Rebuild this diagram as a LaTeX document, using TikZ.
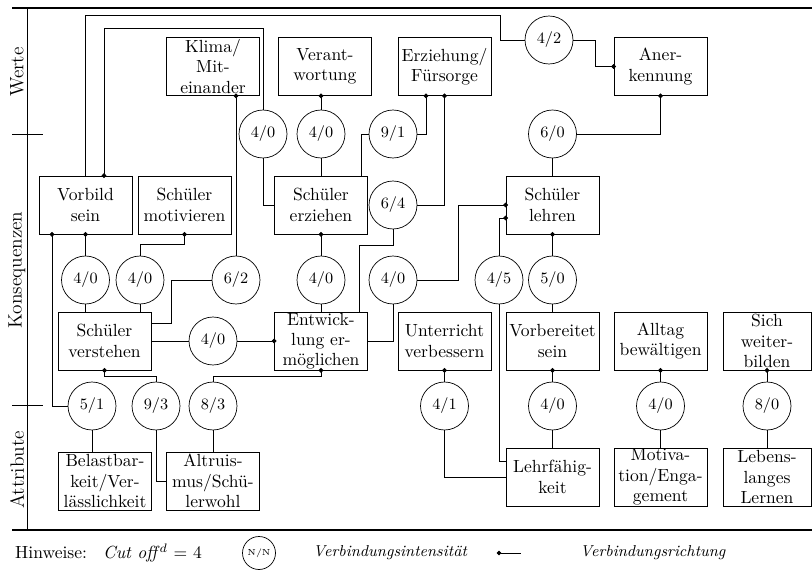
\documentclass[tikz,border=0pt]{standalone}
\usepackage{tikz}
\usetikzlibrary{shapes,arrows.meta,positioning,calc}

\begin{document}
\begin{tikzpicture}[x=0.02cm, y=-0.02cm,
    factor/.style={rectangle, draw, minimum width=1.86cm, minimum height=1.16cm, inner xsep=1pt, inner ysep=0pt, align=center, font=\fontsize{10}{11.5}\selectfont},
    link/.style={circle, draw, minimum size=0.96cm, inner sep=0pt, font=\small},
    level/.style={rotate=90, font=\fontsize{11}{13}\selectfont},
    dotstart/.style={{Circle[length=2.6pt]}-, shorten <=-1.3pt},
    dotend/.style={-{Circle[length=2.6pt]}, shorten >=-1.3pt},
    note/.style={anchor=west, font=\normalsize},
    keytext/.style={anchor=west, font=\fontsize{9}{11}\selectfont\itshape}
]
\useasboundingbox (0,0) rectangle (812,571);

% Frame and levels
\draw[line width=1pt] (12,8) -- (812,8);
\draw[line width=1pt] (12,530) -- (812,530);
\draw (27,8) -- (27,530);
\draw (12,134) -- (43,134);
\draw (12,405) -- (43,405);
\node[level] (werte) at (17,72) {Werte};
\node[level] (kons) at (17,270) {Konsequenzen};
\node[level] (attr) at (17,470) {Attribute};

% Werte
\node[factor] (klima) at (213,66.5) {Klima/\\Mit-\\einander};
\node[factor] (verant) at (325,66.5) {Verant-\\wortung};
\node[factor] (erziehung) at (444.5,66.5) {Erziehung/\\Fürsorge};
\node[factor] (anerk) at (660.5,66.5) {Aner-\\kennung};

% Konsequenzen
\node[factor] (vorbild) at (85.5,205) {Vorbild\\sein};
\node[factor] (motiv) at (184.5,205) {Schüler\\motivieren};
\node[factor] (erziehen) at (321,205) {Schüler\\erziehen};
\node[factor] (lehren) at (552.5,205) {Schüler\\lehren};
\node[factor] (verstehen) at (104.5,341) {Schüler\\verstehen};
\node[factor] (entw) at (321,341) {Entwick-\\lung er-\\möglichen};
\node[factor] (unterr) at (444.5,341) {Unterricht\\verbessern};
\node[factor] (vorber) at (552.5,341) {Vorbereitet\\sein};
\node[factor] (alltag) at (660.5,341) {Alltag\\bewältigen};
\node[factor, minimum width=1.76cm] (weiter) at (767,341) {Sich\\weiter-\\bilden};

% Attribute
\node[factor] (belast) at (105,481) {Belastbar-\\keit/Ver-\\lässlichkeit};
\node[factor] (altru) at (213,481) {Altruis-\\mus/Schü-\\lerwohl};
\node[factor] (lehrf) at (552.5,477) {Lehrfähig-\\keit};
\node[factor] (motivat) at (660.5,477) {Motiva-\\tion/Enga-\\gement};
\node[factor, minimum width=1.76cm] (lernen) at (767,477) {Lebens-\\langes\\Lernen};

% Verbindungsintensitaet
\node[link] (iAner) at (549,40) {4/2};
\node[link] (iErzVor) at (263,134) {4/0};
\node[link] (iVerant) at (321,134) {4/0};
\node[link] (iFuer1) at (393,134) {9/1};
\node[link] (iAnLehr) at (552.5,134) {6/0};
\node[link] (iFuer2) at (393,205) {6/4};
\node[link] (iVorVer) at (85.5,280) {4/0};
\node[link] (iMotVer) at (140,280) {4/0};
\node[link] (iKlVer) at (236,280) {6/2};
\node[link] (iErzEnt) at (321,280) {4/0};
\node[link] (iEntLehr) at (393,280) {4/0};
\node[link] (iLfLehr) at (499,280) {4/5};
\node[link] (iLehVorb) at (552.5,280) {5/0};
\node[link] (iVerEnt) at (213,341) {4/0};
\node[link] (iBelVor) at (92,406) {5/1};
\node[link] (iAltVer) at (156,406) {9/3};
\node[link] (iAltEnt) at (213,406) {8/3};
\node[link] (iLfUnt) at (444.5,406) {4/1};
\node[link] (iLfVorb) at (552.5,406) {4/0};
\node[link] (iMotAll) at (660.5,406) {4/0};
\node[link] (iLernWb) at (767,406) {8/0};

% Connections to Werte
\draw (vorbild.north) |- (500,15) |- (iAner.west);
\draw[dotend] (iAner.east) -- ++(22,0) |- (anerk.west);
\draw[dotstart] ($(vorbild.north)+(18.5,0)$) |- (263,28) -- (iErzVor.north);
\draw (iErzVor.south) |- (erziehen.west);
\draw[dotstart] ($(klima.south)+(23,0)$) -- (iKlVer.north);
\draw (iKlVer.west) -- ++(-40,0) |- ($(verstehen.east)+(0,-18)$);
\draw[dotstart] (iVerant.north |- verant.south) -- (iVerant.north);
\draw (iVerant.south) -- (erziehen.north);
\draw[dotstart] ($(erziehung.south)+(-18.5,0)$) |- (iFuer1.east);
\draw (iFuer1.west) -| ($(erziehen.north)+(40,0)$);
\draw[dotstart] (erziehung.south) |- (iFuer2.east);
\draw (iFuer2.south) -- ++(0,16) -| ($(entw.north)+(38,0)$);
\draw[dotstart] (anerk.south) |- (iAnLehr.east);
\draw (iAnLehr.south) -- (lehren.north);

% Connections between Konsequenzen
\draw[dotstart] (vorbild.south) -- (iVorVer.north);
\draw (iVorVer.south) -- (iVorVer.south |- verstehen.north);
\draw[dotstart] (motiv.south) -- ++(0,10) -| (iMotVer.north);
\draw (iMotVer.south) -- (iMotVer.south |- verstehen.north);
\draw (verstehen.east) -- (iVerEnt.west);
\draw[dotend] (iVerEnt.east) -- (entw.west);
\draw[dotstart] (erziehen.south) -- (iErzEnt.north);
\draw (iErzEnt.south) -- (entw.north);
\draw (entw.east) -| (iEntLehr.south);
\draw[dotend] (iEntLehr.east) -- ++(41,0) |- (lehren.west);
\draw[dotend] (iLfLehr.north) |- ($(lehren.west)+(0,13)$);
\draw[dotstart] (lehren.south) -- (iLehVorb.north);
\draw (iLehVorb.south) -- (vorber.north);

% Connections to Attribute
\draw[dotstart] ($(vorbild.south)+(-33.5,0)$) |- (iBelVor.west);
\draw (iBelVor.south) -- (iBelVor.south |- belast.north);
\draw[dotstart] (verstehen.south) -- ++(0,6) -| (iAltVer.north);
\draw (iAltVer.south) |- (altru.west);
\draw[dotstart] (entw.south) -- ++(0,6) -| (iAltEnt.north);
\draw (iAltEnt.south) -- (altru.north);
\draw (iLfLehr.south) |- ($(lehrf.west)+(0,-16)$);
\draw[dotstart] (unterr.south) -- (iLfUnt.north);
\draw (iLfUnt.south) |- (lehrf.west);
\draw[dotstart] (vorber.south) -- (iLfVorb.north);
\draw (iLfVorb.south) -- (lehrf.north);
\draw[dotstart] (alltag.south) -- (iMotAll.north);
\draw (iMotAll.south) -- (motivat.north);
\draw[dotstart] (weiter.south) -- (iLernWb.north);
\draw (iLernWb.south) -- (lernen.north);

% Hinweise
\node[note] (hinw) at (9,553) {Hinweise:};
\node[note] (cut) at (97,553) {\textit{Cut off}$^{d}$ $=$ 4};
\node[link, minimum size=0.66cm, font=\tiny] (keyc) at (259,553) {N/N};
\node[keytext] (keyint) at (307,553) {Verbindungsintensität};
\coordinate (keyd) at (499,553);
\coordinate (keyl) at (521,553);
\draw[dotstart] (keyd) -- (keyl);
\node[keytext] (keyri) at (574,553) {Verbindungsrichtung};

\end{tikzpicture}
\end{document}
